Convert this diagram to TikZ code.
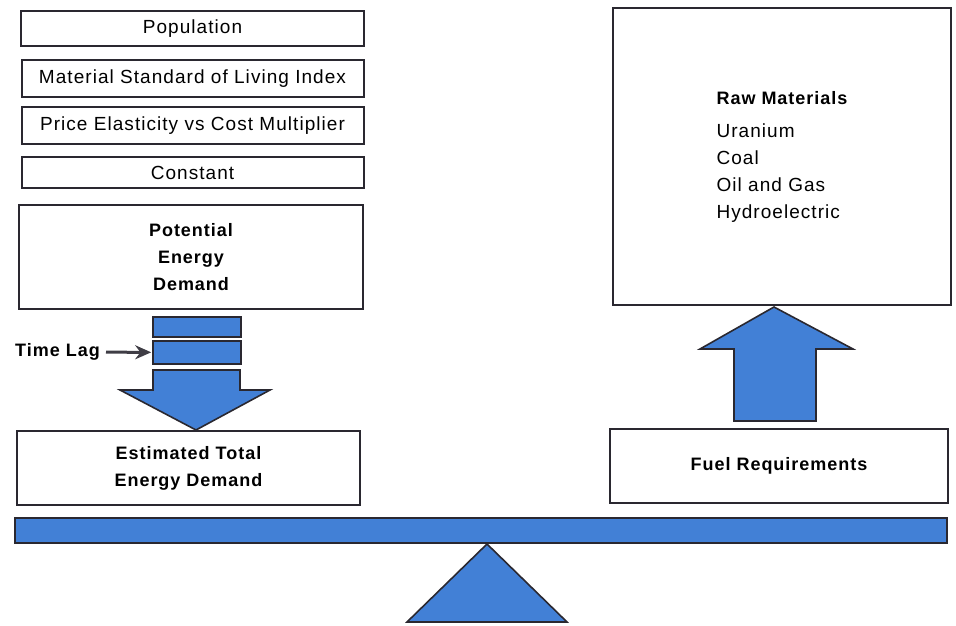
\documentclass[tikz,border=0pt]{standalone}
\usepackage{fontspec}
\setmainfont[LetterSpace=5.5]{Liberation Sans}
\usetikzlibrary{arrows.meta}
\definecolor{scaleblue}{RGB}{66,128,214}
\definecolor{rimgray}{RGB}{42,40,48}

\begin{document}
\begin{tikzpicture}[x=1pt,y=1pt,
  box/.style={draw=rimgray,line width=2pt,fill=white,inner sep=0pt,align=center,
    font=\fontsize{19}{27}\selectfont},
  boldbox/.style={box,font=\fontsize{18}{27}\selectfont\bfseries},
  bluepart/.style={draw=rimgray,fill=scaleblue,line width=1.6pt,line join=miter},
  lagarrow/.style={draw=rimgray!90,line width=3pt,-{Stealth[length=16pt,width=14pt]}}]
  \useasboundingbox (0,0) rectangle (956,625);
  \node[box,minimum width=343,minimum height=35] (pop) at (192.5,596.5) {Population};
  \node[box,minimum width=342,minimum height=37] (msli) at (192.5,546.5) {Material Standard of Living Index};
  \node[box,minimum width=342,minimum height=37] (pecm) at (192.5,499.5) {Price Elasticity vs Cost Multiplier};
  \node[box,minimum width=342,minimum height=31] (const) at (192.5,452.5) {Constant};
  \node[boldbox,minimum width=344,minimum height=104] (ped) at (191,368) {Potential\\Energy\\Demand};
  \node[boldbox,minimum width=343,minimum height=74] (etd) at (188.5,157) {Estimated Total\\Energy Demand};
  \node[box,minimum width=338,minimum height=297,align=left] (raw) at (782,468.5)
    {{\fontsize{18}{27}\selectfont\bfseries Raw Materials}\\[6pt]Uranium\\Coal\\Oil and Gas\\Hydroelectric};
  \node[boldbox,minimum width=338,minimum height=74] (fuel) at (779,159) {Fuel Requirements};

  \node[bluepart,minimum width=88,minimum height=20,inner sep=0pt] (lag1) at (197,298) {};
  \node[bluepart,minimum width=88,minimum height=23,inner sep=0pt] (lag2) at (197,272.5) {};
  \node[font=\fontsize{18}{22}\selectfont\bfseries,anchor=east,inner sep=0pt] (tlag) at (100,273) {Time Lag};
  \draw[lagarrow,shorten <=6pt,shorten >=1pt] (tlag) -- (lag2);

  \draw[bluepart] (153,255) -- (240,255) -- (240,235) -- (270,235) -- (196,195)
    -- (120,235) -- (153,235) -- cycle;
  \draw[bluepart] (734,204) -- (816,204) -- (816,276) -- (853,276) -- (774,318)
    -- (700,276) -- (734,276) -- cycle;

  \node[bluepart,minimum width=932,minimum height=25,inner sep=0pt] (beam) at (481,94.5) {};
  \draw[bluepart] (487,81) -- (567,3) -- (407,3) -- cycle;
\end{tikzpicture}
\end{document}
